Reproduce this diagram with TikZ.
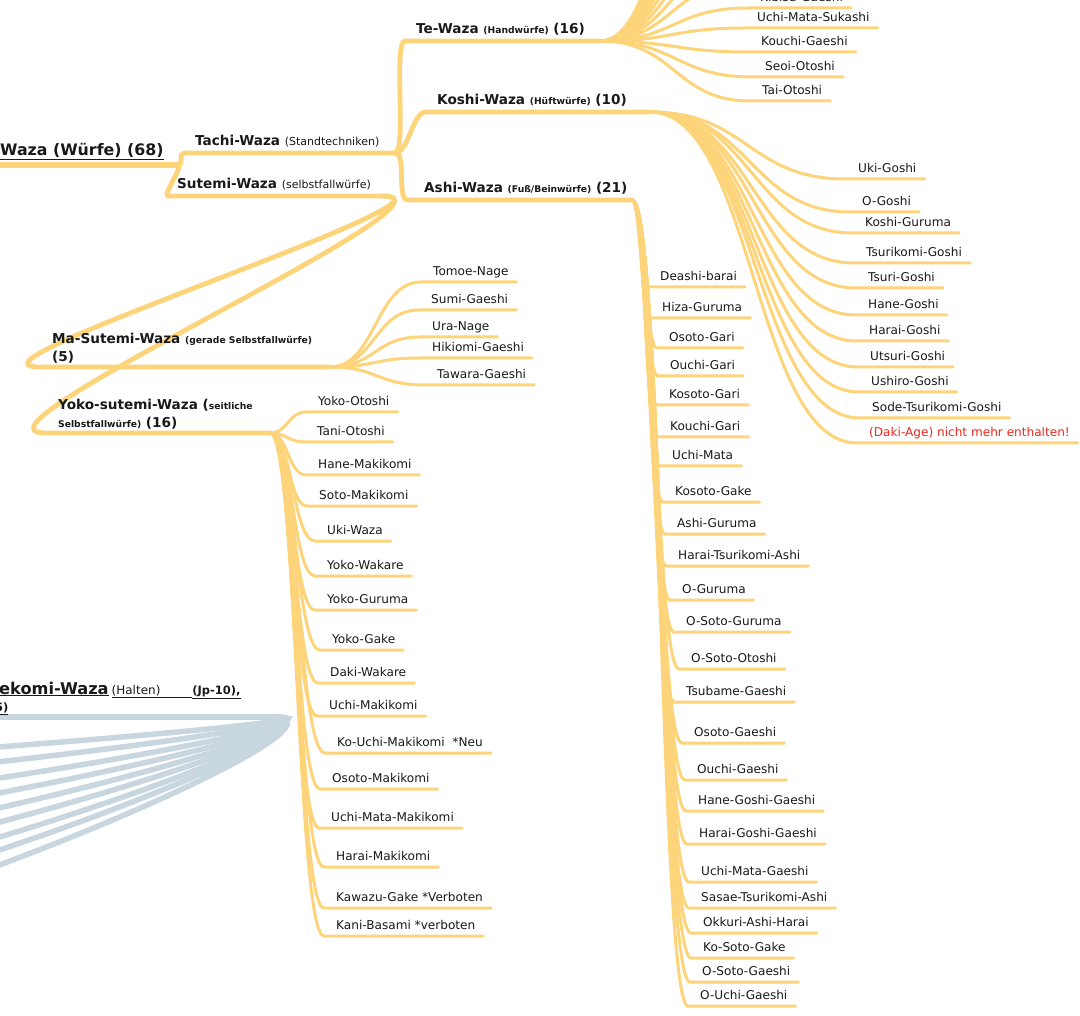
\documentclass[tikz,border=0pt]{standalone}
\usepackage{fontspec}
\usetikzlibrary{calc}
\setmainfont{DejaVu Sans}
\definecolor{yel}{RGB}{253,212,122}
\definecolor{blu}{RGB}{200,214,224}
\definecolor{txt}{RGB}{25,25,25}
\definecolor{redt}{RGB}{240,40,30}
\newcommand\leaffont{\fontsize{12.1}{14}\selectfont}
\newcommand\headfont{\fontsize{13.6}{16}\selectfont\bfseries}
\newcommand\smallreg{\fontsize{11}{13}\selectfont\mdseries}
\newcommand\smallbold{\fontsize{9.2}{11}\selectfont\bfseries}
\tikzset{
  ylink/.style={draw=yel, line width=3pt, line cap=round},
  ymain/.style={draw=yel, line width=4.8pt, line cap=round},
  yroot/.style={draw=yel, line width=6pt, line cap=round},
  blink/.style={draw=blu, line width=5.5pt, line cap=round},
  leaf/.style={anchor=south west, inner xsep=0pt, inner ysep=3pt, text depth=3pt, font=\leaffont, text=txt},
  head/.style={anchor=base west, inner sep=0pt, font=\headfont, text=txt},
}
% #1 name, #2 hub, #3 control factor, #4 text x, #5 underline y, #6 text
\newcommand\lf[6]{%
  \node[leaf] (#1) at (#4,#5) {#6};
  \draw[ylink] let \p1=(#2), \p2=([xshift=-12pt]#1.south west), \n1={#3*(\x2-\x1)} in
    (\p1) .. controls +(\n1,0) and +(-\n1,0) .. (\p2) -- ([xshift=8pt]#1.south east);}
\begin{document}
\begin{tikzpicture}[x=1pt,y=-1pt]
\useasboundingbox (0,0) rectangle (1080,1016);
\clip (0,0) rectangle (1080,1016);
\fill[white] (0,0) rectangle (1080,1016);

% ---------- hub coordinates ----------
\coordinate (rootL) at (-10,165);
\coordinate (rootR) at (178,165);
\coordinate (tachiL) at (184,153);
\coordinate (tachiR) at (395,153);
\coordinate (sutL) at (168,196);
\coordinate (sutR) at (382,196);
\coordinate (teL) at (405,41);
\coordinate (teR) at (600,41);
\coordinate (koL) at (426,112);
\coordinate (koR) at (650,112);
\coordinate (asL) at (408,200);
\coordinate (asR) at (632,200);
\coordinate (maL) at (40,367);
\coordinate (maR) at (330,367);
\coordinate (yoL) at (46,433);
\coordinate (yoR) at (270,433);
\coordinate (osL) at (-10,717);
\coordinate (osR) at (270,717);

% ---------- blue (Osaekomi) branch ----------
\draw[blink] (osL) -- (osR);
\foreach \i/\yy in {1/763,2/786,3/811,4/834,5/857,6/879,7/902,8/922,9/945}{
  \coordinate (b\i) at (-300,\yy);
  \draw[blink] (osR) .. controls +(120,0) and +(150,0) .. (b\i);
}
\node[anchor=base west, inner sep=0pt, text=txt] (os1) at (-1,694)
  {{\fontsize{16.2}{18}\selectfont\bfseries\underline{\mbox{ekomi-Waza}}}\hspace{3pt}{\fontsize{12}{14}\selectfont\underline{\mbox{(Halten)\hspace{32pt}}}}{\fontsize{11.5}{13}\selectfont\bfseries\underline{\mbox{(Jp-10),}}}};
\node[anchor=base west, inner sep=0pt, text=txt] (os2) at (-5,711)
  {\fontsize{11.5}{13}\selectfont\bfseries\underline{\mbox{5)}}};

% ---------- main yellow structure ----------
\draw[yroot] (rootL) -- (rootR);
\draw[ymain] (rootR) .. controls +(6,0) and +(-6,0) .. (tachiL) -- (tachiR);
\draw[ymain] (rootR) .. controls +(6,0) and +(-6,0) .. (sutL) -- (sutR);
\draw[ymain] (tachiR) .. controls +(12,0) and +(-12,0) .. (teL) -- (teR);
\draw[ymain] (tachiR) .. controls +(14,0) and +(-14,0) .. (koL) -- (koR);
\draw[ymain] (tachiR) .. controls +(12,0) and +(-12,0) .. (asL) -- (asR);
\draw[ymain] (sutR) .. controls +(100,0) and +(-100,0) .. (maL) -- (maR);
\draw[ymain] (sutR) .. controls +(100,0) and +(-100,0) .. (yoL) -- (yoR);

% ---------- headings ----------
\node[head, font=\fontsize{15.8}{19}\selectfont\bfseries] (root) at (0,156) {\underline{\mbox{Waza (Würfe) (68)}}};
\node[head] (tachi) at (195,146) {Tachi-Waza {\smallreg(Standtechniken)}};
\node[head] (sutemi) at (177,189) {Sutemi-Waza {\smallreg(selbstfallwürfe)}};
\node[head] (te) at (416,34) {Te-Waza {\smallbold(Handwürfe)} (16)};
\node[head] (koshi) at (437,105) {Koshi-Waza {\smallbold(Hüftwürfe)} (10)};
\node[head] (ashi) at (424,193) {Ashi-Waza {\smallbold(Fuß/Beinwürfe)} (21)};
\node[head] (ma1) at (52,344) {Ma-Sutemi-Waza {\smallbold(gerade Selbstfallwürfe)}};
\node[head] (ma2) at (52,362) {(5)};
\node[head] (yo1) at (58,410) {Yoko-sutemi-Waza ({\smallbold seitliche}};
\node[head] (yo2) at (58,428) {{\smallbold Selbstfallwürfe)} (16)};

% ---------- Te-Waza leaves ----------
\foreach \i in {1,...,11}{
  \coordinate (th\i) at (745,{-18-24.5*(\i-1)});
  \draw[ylink] (teR) .. controls +(72,0) and +(-72,0) .. (th\i);
}
\lf{t1}{teR}{0.5}{760}{8}{Kibisu-Gaeshi}
\lf{t2}{teR}{0.5}{757}{28}{Uchi-Mata-Sukashi}
\lf{t3}{teR}{0.5}{761}{52}{Kouchi-Gaeshi}
\lf{t4}{teR}{0.5}{765}{77}{Seoi-Otoshi}
\lf{t5}{teR}{0.5}{762}{101}{Tai-Otoshi}

% ---------- Koshi-Waza leaves ----------
\lf{k1}{koR}{0.5}{858}{179}{Uki-Goshi}
\lf{k2}{koR}{0.5}{862}{212}{O-Goshi}
\lf{k3}{koR}{0.5}{865}{233}{Koshi-Guruma}
\lf{k4}{koR}{0.5}{866}{263}{Tsurikomi-Goshi}
\lf{k5}{koR}{0.5}{868}{288}{Tsuri-Goshi}
\lf{k6}{koR}{0.5}{868}{315}{Hane-Goshi}
\lf{k7}{koR}{0.5}{869}{341}{Harai-Goshi}
\lf{k8}{koR}{0.5}{870}{367}{Utsuri-Goshi}
\lf{k9}{koR}{0.5}{871}{392}{Ushiro-Goshi}
\lf{k10}{koR}{0.5}{872}{418}{Sode-Tsurikomi-Goshi}
\lf{k11}{koR}{0.5}{869}{443}{\textcolor{redt}{(Daki-Age) nicht mehr enthalten!}}

% ---------- Ashi-Waza leaves ----------
\lf{a1}{asR}{0.5}{660}{287}{Deashi-barai}
\lf{a2}{asR}{0.5}{662}{318}{Hiza-Guruma}
\lf{a3}{asR}{0.5}{669}{348}{Osoto-Gari}
\lf{a4}{asR}{0.5}{670}{376}{Ouchi-Gari}
\lf{a5}{asR}{0.5}{669}{405}{Kosoto-Gari}
\lf{a6}{asR}{0.5}{670}{437}{Kouchi-Gari}
\lf{a7}{asR}{0.5}{672}{466}{Uchi-Mata}
\lf{a8}{asR}{0.5}{675}{502}{Kosoto-Gake}
\lf{a9}{asR}{0.5}{677}{534}{Ashi-Guruma}
\lf{a10}{asR}{0.5}{678}{566}{Harai-Tsurikomi-Ashi}
\lf{a11}{asR}{0.5}{682}{600}{O-Guruma}
\lf{a12}{asR}{0.5}{686}{632}{O-Soto-Guruma}
\lf{a13}{asR}{0.5}{691}{669}{O-Soto-Otoshi}
\lf{a14}{asR}{0.5}{686}{702}{Tsubame-Gaeshi}
\lf{a15}{asR}{0.5}{694}{743}{Osoto-Gaeshi}
\lf{a16}{asR}{0.5}{697}{780}{Ouchi-Gaeshi}
\lf{a17}{asR}{0.5}{698}{811}{Hane-Goshi-Gaeshi}
\lf{a18}{asR}{0.5}{699}{844}{Harai-Goshi-Gaeshi}
\lf{a19}{asR}{0.5}{701}{882}{Uchi-Mata-Gaeshi}
\lf{a20}{asR}{0.5}{701}{908}{Sasae-Tsurikomi-Ashi}
\lf{a21}{asR}{0.5}{703}{933}{Okkuri-Ashi-Harai}
\lf{a22}{asR}{0.5}{703}{958}{Ko-Soto-Gake}
\lf{a23}{asR}{0.5}{702}{982}{O-Soto-Gaeshi}
\lf{a24}{asR}{0.5}{700}{1006}{O-Uchi-Gaeshi}

% ---------- Ma-Sutemi-Waza leaves ----------
\lf{m1}{maR}{0.5}{433}{282}{Tomoe-Nage}
\lf{m2}{maR}{0.5}{431}{310}{Sumi-Gaeshi}
\lf{m3}{maR}{0.5}{432}{337}{Ura-Nage}
\lf{m4}{maR}{0.5}{432}{358}{Hikiomi-Gaeshi}
\lf{m5}{maR}{0.5}{437}{385}{Tawara-Gaeshi}

% ---------- Yoko-sutemi-Waza leaves ----------
\lf{y1}{yoR}{0.5}{318}{412}{Yoko-Otoshi}
\lf{y2}{yoR}{0.5}{317}{442}{Tani-Otoshi}
\lf{y3}{yoR}{0.5}{318}{475}{Hane-Makikomi}
\lf{y4}{yoR}{0.5}{319}{506}{Soto-Makikomi}
\lf{y5}{yoR}{0.5}{327}{541}{Uki-Waza}
\lf{y6}{yoR}{0.5}{327}{576}{Yoko-Wakare}
\lf{y7}{yoR}{0.5}{327}{610}{Yoko-Guruma}
\lf{y8}{yoR}{0.5}{332}{650}{Yoko-Gake}
\lf{y9}{yoR}{0.5}{330}{683}{Daki-Wakare}
\lf{y10}{yoR}{0.5}{329}{716}{Uchi-Makikomi}
\lf{y11}{yoR}{0.5}{337}{753}{Ko-Uchi-Makikomi\ \ *Neu}
\lf{y12}{yoR}{0.5}{332}{789}{Osoto-Makikomi}
\lf{y13}{yoR}{0.5}{331}{828}{Uchi-Mata-Makikomi}
\lf{y14}{yoR}{0.5}{336}{867}{Harai-Makikomi}
\lf{y15}{yoR}{0.5}{336}{908}{Kawazu-Gake *Verboten}
\lf{y16}{yoR}{0.5}{336}{936}{Kani-Basami *verboten}
\end{tikzpicture}
\end{document}
